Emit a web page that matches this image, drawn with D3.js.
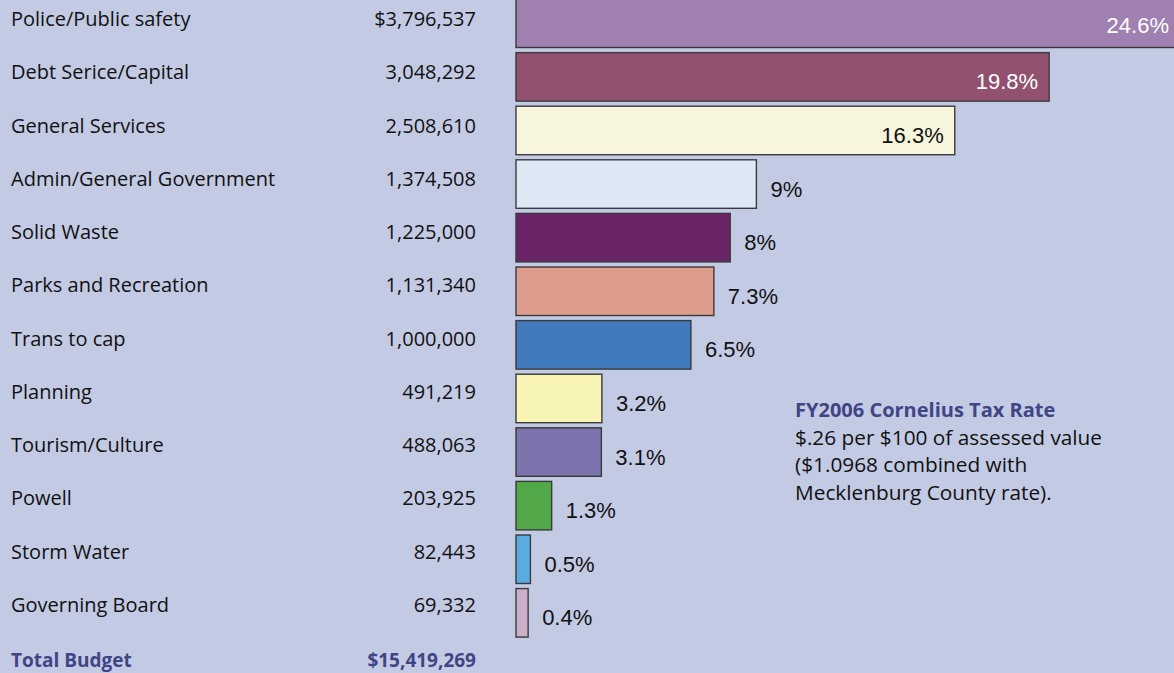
<!DOCTYPE html>
<html>
<head>
<meta charset="utf-8">
<script src="https://cdn.jsdelivr.net/npm/d3@7"></script>
<style>
  body { margin: 0; background: #c3cae4; overflow: hidden; }
  svg { display: block; }
</style>
</head>
<body>
<svg id="frame"></svg>
<script>
const width = 1174;
const height = 673;

// data
const categories = ['Police/Public safety', 'Debt Serice/Capital', 'General Services', 'Admin/General Government',
  'Solid Waste', 'Parks and Recreation', 'Trans to cap', 'Planning', 'Tourism/Culture', 'Powell',
  'Storm Water', 'Governing Board'];
const amounts = [3796537, 3048292, 2508610, 1374508, 1225000, 1131340, 1000000, 491219, 488063, 203925, 82443, 69332];
const amountLabels = ['$3,796,537', '3,048,292', '2,508,610', '1,374,508', '1,225,000', '1,131,340',
  '1,000,000', '491,219', '488,063', '203,925', '82,443', '69,332'];
const percents = ['24.6%', '19.8%', '16.3%', '9%', '8%', '7.3%', '6.5%', '3.2%', '3.1%', '1.3%', '0.5%', '0.4%'];
const colors = ['#a080b0', '#91516f', '#f7f5dc', '#dde8f5', '#6a2468', '#dc9d8c', '#4079bc',
  '#f6f3b4', '#7b74ad', '#52a848', '#5aabe0', '#ccb0c9'];
const totalLabel = 'Total Budget';
const totalValue = '$15,419,269';
const noteTitle = 'FY2006 Cornelius Tax Rate';
const noteLines = ['$.26 per $100 of assessed value', '($1.0968 combined with', 'Mecklenburg County rate).'];

const rows = categories.map((c, i) => ({name: c, value: amounts[i], label: amountLabels[i], pct: percents[i], color: colors[i]}));

const svg = d3.select('#frame')
  .attr('width', width)
  .attr('height', height);

const barLeft = 516;
const xScale = d3.scaleLinear()
  .domain([0, d3.max(amounts)])
  .range([barLeft, barLeft + 664]);

// bar rows
const yScale = d3.scaleBand()
  .domain(categories)
  .range([-1, 637.1])
  .paddingInner(0.095);

// text rows of the table on the left (slightly tighter than the bars)
const rowScale = d3.scalePoint()
  .domain(categories)
  .range([26, 612]);

const labelFont = '"Open Sans", "Noto Sans", sans-serif';
const pctFont = '"Liberation Sans", Arial, sans-serif';
const labelSize = 20;

// left labels
svg.selectAll('.name').data(rows).enter()
  .append('text')
  .attr('class', 'name')
  .attr('x', 11)
  .attr('y', d => rowScale(d.name))
  .attr('font-family', labelFont)
  .attr('font-size', labelSize)
  .attr('fill', '#111')
  .text(d => d.name);

svg.selectAll('.amt').data(rows).enter()
  .append('text')
  .attr('class', 'amt')
  .attr('x', 476)
  .attr('y', d => rowScale(d.name))
  .attr('text-anchor', 'end')
  .attr('font-family', labelFont)
  .attr('font-size', labelSize)
  .attr('fill', '#111')
  .text(d => d.label);

// bars
svg.selectAll('rect').data(rows).enter()
  .append('rect')
  .attr('x', xScale(0))
  .attr('y', d => yScale(d.name))
  .attr('width', d => xScale(d.value) - xScale(0))
  .attr('height', yScale.bandwidth())
  .attr('fill', d => d.color)
  .attr('stroke', '#3a3a3a')
  .attr('stroke-width', 1.4);

// percent labels: inside for the three widest bars
svg.selectAll('.pct').data(rows).enter()
  .append('text')
  .attr('class', 'pct')
  .attr('x', (d, i) => i < 3 ? Math.min(xScale(d.value) - 11, width - 1) : xScale(d.value) + 14)
  .attr('y', (d, i) => yScale(d.name) + yScale.bandwidth() / 2 + (i === 0 ? 10 : 12.5))
  .attr('text-anchor', (d, i) => i < 3 ? 'end' : 'start')
  .attr('font-family', pctFont)
  .attr('font-size', 22)
  .attr('fill', (d, i) => i < 2 ? '#fff' : '#111')
  .text(d => d.pct);

// total row
const totalY = rowScale(categories[categories.length - 1]) + rowScale.step() + 2;
svg.append('text')
  .attr('x', 11)
  .attr('y', totalY)
  .attr('font-family', labelFont)
  .attr('font-size', 19)
  .attr('font-weight', 'bold')
  .attr('fill', '#3f4586')
  .text(totalLabel);
svg.append('text')
  .attr('x', 476)
  .attr('y', totalY)
  .attr('text-anchor', 'end')
  .attr('font-family', labelFont)
  .attr('font-size', 19)
  .attr('font-weight', 'bold')
  .attr('fill', '#3f4586')
  .text(totalValue);

// note
const note = svg.append('g').attr('transform', 'translate(795,417)');
note.append('text')
  .attr('font-family', labelFont)
  .attr('font-size', 20)
  .attr('font-weight', 'bold')
  .attr('fill', '#3f4586')
  .text(noteTitle);
note.selectAll('.line').data(noteLines).enter()
  .append('text')
  .attr('class', 'line')
  .attr('y', (d, i) => 27.5 * (i + 1))
  .attr('font-family', labelFont)
  .attr('font-size', 20.8)
  .attr('fill', '#111')
  .text(d => d);
</script>
</body>
</html>
